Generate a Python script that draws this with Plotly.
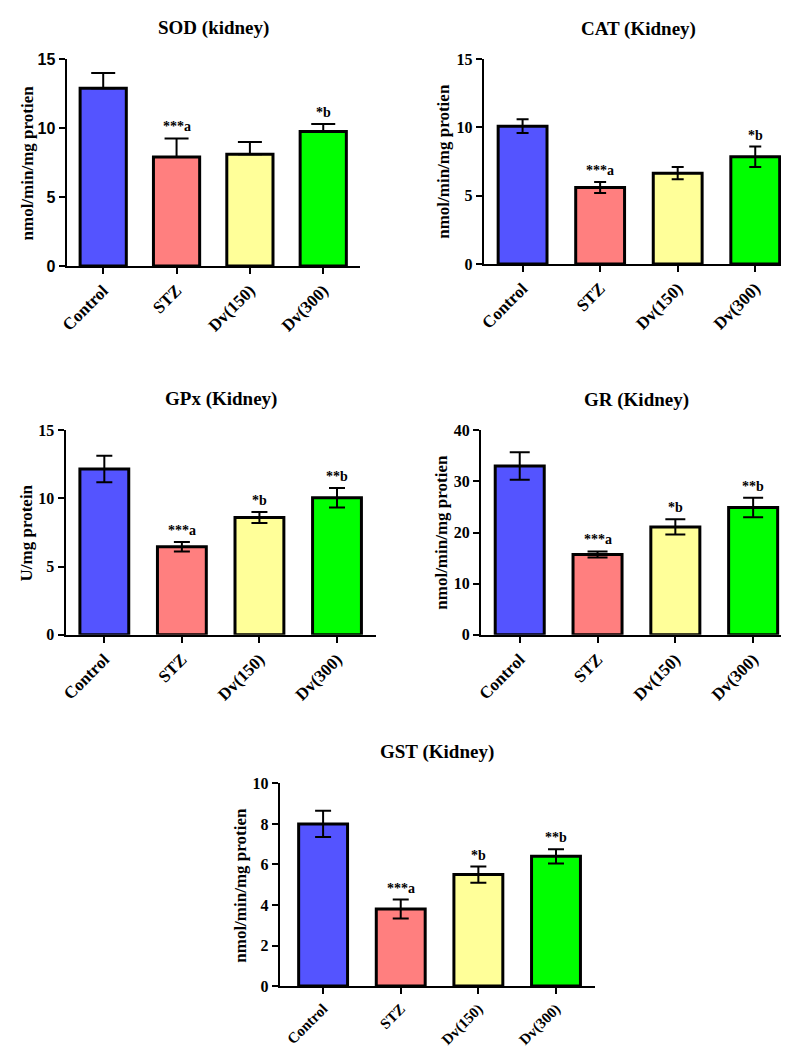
import plotly.graph_objects as go

W, H = 789, 1053

groups = ["Control", "STZ", "Dv(150)", "Dv(300)"]
colors = ["#5454FF", "#FF7F7F", "#FFFF99", "#00FF00"]

sod_mean = [12.9, 7.9, 8.1, 9.75]
sod_err = [1.1, 1.35, 0.9, 0.55]
sod_sig = ["", "***a", "", "*b"]

cat_mean = [10.1, 5.6, 6.65, 7.85]
cat_err = [0.5, 0.4, 0.45, 0.75]
cat_sig = ["", "***a", "", "*b"]

gpx_mean = [12.15, 6.45, 8.6, 10.05]
gpx_err = [0.97, 0.35, 0.4, 0.72]
gpx_sig = ["", "***a", "*b", "**b"]

gr_mean = [33.0, 15.7, 21.1, 24.9]
gr_err = [2.7, 0.6, 1.5, 1.9]
gr_sig = ["", "***a", "*b", "**b"]

gst_mean = [8.0, 3.8, 5.5, 6.4]
gst_err = [0.65, 0.47, 0.4, 0.35]
gst_sig = ["", "***a", "*b", "**b"]

SERIF = "Liberation Serif"
SANS = "Liberation Sans"

# panel specs
panels = [
    ("SOD (kidney)", "nmol/min/mg protien", sod_mean, sod_err, sod_sig, 52, 348, 44, 254, 15, 5, SANS, 12, True, 12, 13, -0.5, 17),
    ("CAT (Kidney)", "nmol/min/mg protien", cat_mean, cat_err, cat_sig, 473, 786, 44, 252, 15, 5, SERIF, 6, False, 13, 432, -0.5, 17),
    ("GPx (Kidney)", "U/mg protein", gpx_mean, gpx_err, gpx_sig, 51, 364, 421, 629, 15, 5, SERIF, 8, False, 389, 12, -0.5, 17),
    ("GR (Kidney)", "nmol/min/mg protien", gr_mean, gr_err, gr_sig, 470, 784, 421, 629, 40, 10, SERIF, 10, False, 390, 430, -0.5, 17),
    ("GST (Kidney)", "nmol/min/mg protien", gst_mean, gst_err, gst_sig, 267, 585, 780, 986, 10, 2, SERIF, 8, False, 748, 228, -0.56, 15),
]

fig = go.Figure()
annotations = []
layout = dict(
    width=W, height=H,
    margin=dict(l=0, r=0, t=0, b=0),
    paper_bgcolor="white", plot_bgcolor="white",
    showlegend=False,
)

for i, (title, ylab, mean, err, sig, x0, x1, yt, yb, ymax, dtick, tfont, cap, upper_only, ty, ylx, xlo, xfs) in enumerate(panels):
    n = "" if i == 0 else str(i + 1)
    xa, ya = "x" + n, "y" + n
    fig.add_trace(go.Bar(
        x=groups, y=mean, xaxis=xa, yaxis=ya, width=0.63,
        marker=dict(color=colors, line=dict(color="black", width=3)),
        error_y=dict(type="data", array=err,
                     arrayminus=[0] * len(err) if upper_only else err,
                     symmetric=False, color="black", thickness=2, width=cap),
        hoverinfo="skip",
    ))
    layout["xaxis" + n] = dict(
        domain=[x0 / W, x1 / W], anchor=ya, range=[xlo, 3.5],
        showline=True, linecolor="black", linewidth=2,
        ticks="outside", ticklen=6, tickwidth=2, tickcolor="black",
        tickangle=-45, showgrid=False, zeroline=False,
        tickfont=dict(family=SERIF, size=xfs, color="black", weight="bold"),
    )
    layout["yaxis" + n] = dict(
        domain=[1 - yb / H, 1 - yt / H], anchor=xa, range=[0, ymax],
        dtick=dtick, tick0=0,
        showline=True, linecolor="black", linewidth=2,
        ticks="outside", ticklen=6, tickwidth=2, tickcolor="black",
        showgrid=False, zeroline=False,
        tickfont=dict(family=tfont, size=16, color="black", weight="bold"),
    )
    annotations.append(dict(
        text="<b>%s</b>" % title, xref="paper", yref="paper",
        x=(x0 + x1) / 2 / W, y=1 - ty / H, xanchor="center", yanchor="middle",
        showarrow=False, font=dict(family=SERIF, size=19, color="black"),
    ))
    annotations.append(dict(
        text="<b>%s</b>" % ylab, xref="paper", yref="paper", textangle=-90,
        x=ylx / W, y=1 - (yt + yb) / 2 / H, xanchor="center", yanchor="middle",
        showarrow=False, font=dict(family=SERIF, size=17, color="black"),
    ))
    for g, m, e, s in zip(groups, mean, err, sig):
        if s:
            annotations.append(dict(
                text="<b>%s</b>" % s, xref=xa, yref=ya, x=g, y=m + e,
                xanchor="center", yanchor="bottom", yshift=2,
                showarrow=False, font=dict(family=SERIF, size=14, color="black"),
            ))

layout["annotations"] = annotations
fig.update_layout(**layout)
fig.write_html("out.html")
